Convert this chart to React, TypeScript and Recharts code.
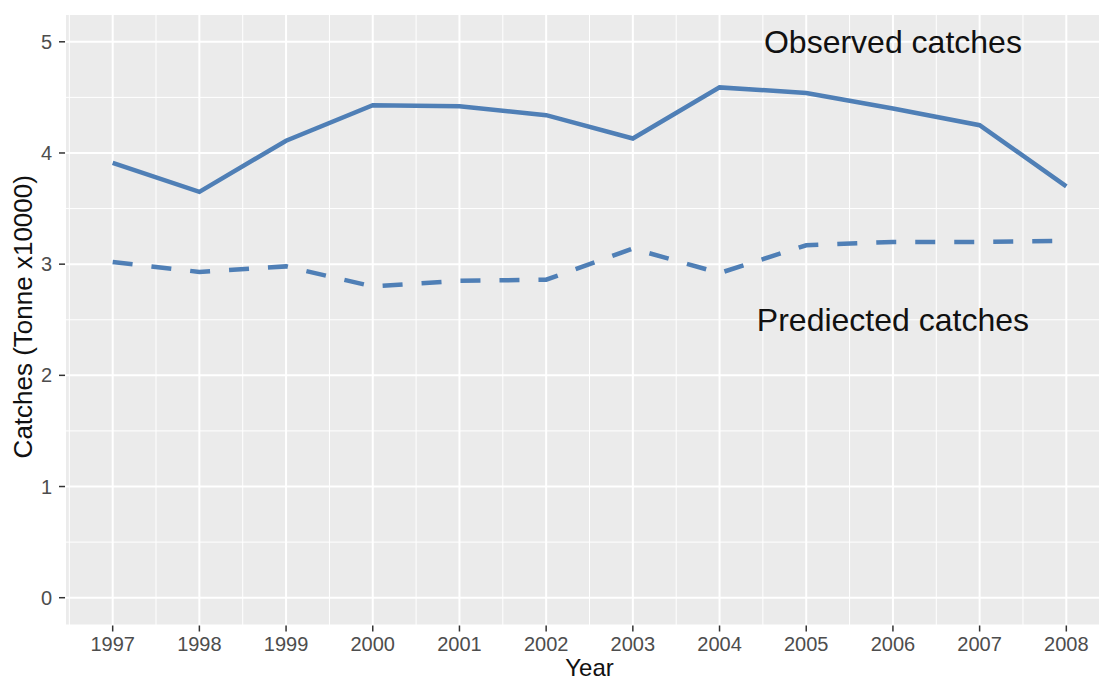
import {
  CartesianGrid,
  Line,
  LineChart,
  ReferenceDot,
  ReferenceLine,
  XAxis,
  YAxis
} from "recharts"

const years = [1997, 1998, 1999, 2000, 2001, 2002, 2003, 2004, 2005, 2006, 2007, 2008]
const observed = [3.91, 3.65, 4.11, 4.43, 4.42, 4.34, 4.13, 4.59, 4.54, 4.4, 4.25, 3.7]
const predicted = [3.02, 2.93, 2.98, 2.8, 2.85, 2.86, 3.14, 2.92, 3.17, 3.2, 3.2, 3.21]
const yTicks = [0, 1, 2, 3, 4, 5]
const minorYears = [1996.5, 1997.5, 1998.5, 1999.5, 2000.5, 2001.5, 2002.5, 2003.5, 2004.5, 2005.5, 2006.5, 2007.5, 2008.5]
const minorY = [0.5, 1.5, 2.5, 3.5, 4.5]

const notes = [
  { year: 2006, value: 5, text: "Observed catches" },
  { year: 2006, value: 2.5, text: "Prediected catches" }
]

const data = years.map((year, i) => ({
  year,
  observed: observed[i],
  predicted: predicted[i]
}))

const BLUE = "#4F7FB6"
const FONT = "'Liberation Sans', Arial, sans-serif"

const NoteText = (text: string) => (props: any) => (
  <text
    x={props.cx}
    y={props.cy}
    dy="0.355em"
    textAnchor="middle"
    fontSize={32}
    fontFamily={FONT}
    fill="#111"
  >
    {text}
  </text>
)

const App = () => {
  return (
    <div
      style={{
        position: "absolute",
        left: 0,
        top: 0,
        width: 1099,
        height: 681,
        overflow: "hidden",
        background: "#fff",
        fontFamily: FONT
      }}
    >
      <LineChart
        width={1114}
        height={681}
        data={data}
        margin={{ top: 14, right: 0, bottom: 0, left: 0 }}
      >
        <CartesianGrid fill="#EBEBEB" stroke="#fff" strokeWidth={2} />
        {minorYears.map((v) => (
          <ReferenceLine
            key={"mx" + v}
            x={v}
            stroke="#fff"
            strokeWidth={1}
            zIndex={-50}
          />
        ))}
        {minorY.map((v) => (
          <ReferenceLine
            key={"my" + v}
            y={v}
            stroke="#fff"
            strokeWidth={1}
            zIndex={-50}
          />
        ))}
        <XAxis
          dataKey="year"
          type="number"
          domain={[1996.45, 2008.55]}
          ticks={years}
          allowDataOverflow
          interval={0}
          height={55.5}
          axisLine={false}
          tickSize={6}
          tickMargin={5}
          tickLine={{ stroke: "#333", strokeWidth: 1.5 }}
          tick={{ fill: "#4D4D4D", fontSize: 20, fontFamily: FONT }}
          label={{
            value: "Year",
            position: "center",
            dy: 14,
            fontSize: 24,
            fill: "#111",
            fontFamily: FONT
          }}
        />
        <YAxis
          type="number"
          domain={[-0.25, 5.25]}
          ticks={yTicks}
          allowDataOverflow
          width={65}
          axisLine={false}
          tickSize={6}
          tickMargin={7}
          tickLine={{ stroke: "#333", strokeWidth: 1.5 }}
          tick={{ fill: "#4D4D4D", fontSize: 20, fontFamily: FONT }}
          label={{
            value: "Catches (Tonne x10000)",
            angle: -90,
            position: "center",
            dx: -10,
            dy: -3,
            fontSize: 26,
            fill: "#111",
            fontFamily: FONT
          }}
        />
        <Line
          dataKey="observed"
          stroke={BLUE}
          strokeWidth={4.5}
          dot={false}
          isAnimationActive={false}
        />
        <Line
          dataKey="predicted"
          stroke={BLUE}
          strokeWidth={4.5}
          strokeDasharray="20 19"
          dot={false}
          isAnimationActive={false}
        />
        {notes.map((n) => (
          <ReferenceDot
            key={n.text}
            x={n.year}
            y={n.value}
            r={0}
            shape={NoteText(n.text)}
          />
        ))}
      </LineChart>
    </div>
  )
}

export default App
